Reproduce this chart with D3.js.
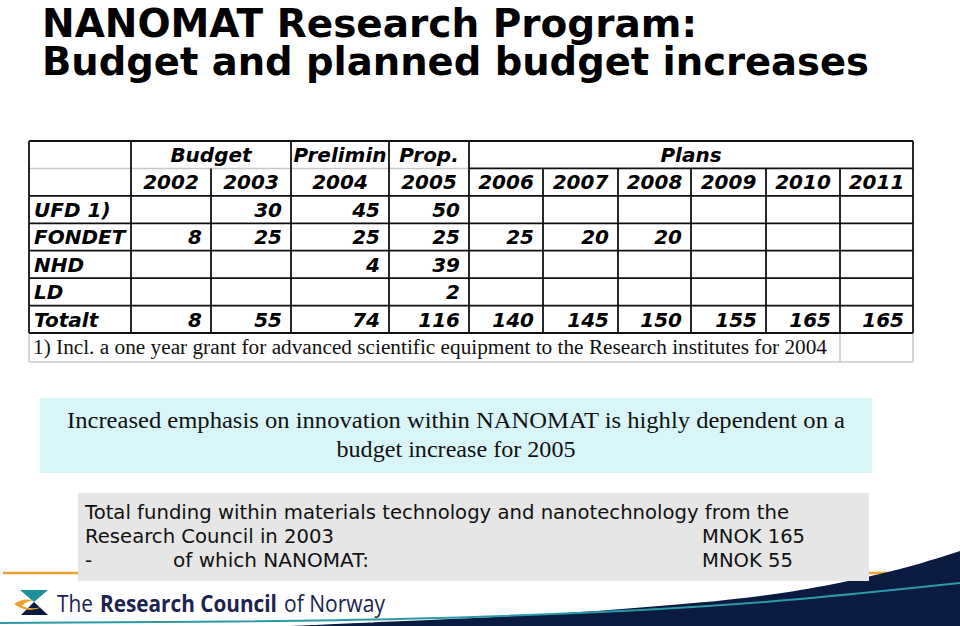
<!DOCTYPE html>
<html><head><meta charset="utf-8">
<script src="https://cdn.jsdelivr.net/npm/d3@7"></script>
<style>html,body{margin:0;padding:0;background:#fff;}svg{display:block;}</style>
</head><body>
<svg id="c" width="960" height="626"></svg>
<script>
// ---------- data ----------
const titleLines = ["NANOMAT Research Program:", "Budget and planned budget increases"];
const groupLabels = ["Budget", "Prelimin", "Prop.", "Plans"];
const groupSpans = [2, 1, 1, 6];
const years = ["2002","2003","2004","2005","2006","2007","2008","2009","2010","2011"];
const rowLabels = ["UFD 1)", "FONDET", "NHD", "LD", "Totalt"];
const ufd    = [null, 30, 45, 50, null, null, null, null, null, null];
const fondet = [8, 25, 25, 25, 25, 20, 20, null, null, null];
const nhd    = [null, null, 4, 39, null, null, null, null, null, null];
const ld     = [null, null, null, 2, null, null, null, null, null, null];
const totalt = [8, 55, 74, 116, 140, 145, 150, 155, 165, 165];
const footnote = "1) Incl. a one year grant for advanced scientific equipment to the Research institutes for 2004";
const emphasisLines = ["Increased emphasis on innovation within NANOMAT is highly dependent on a", "budget increase for 2005"];
const fundingLine1 = "Total funding within materials technology and nanotechnology from the";
const fundingLabels = ["Research Council in 2003", "of which NANOMAT:"];
const fundingValues = ["MNOK 165", "MNOK 55"];
const logoParts = ["The", "Research Council", "of Norway"];

// ---------- layout ----------
const svg = d3.select("#c");
svg.append("rect").attr("width", 960).attr("height", 626).attr("fill", "#fff");

const tableLeft = 29, labelRight = 131, tableRight = 913;
const colWidths = [80, 80, 98, 80, 74, 75, 73, 75, 74, 73];
const lefts = [];
colWidths.reduce((acc, w) => { lefts.push(acc); return acc + w; }, labelRight);
const xCol = d3.scaleOrdinal().domain(years).range(lefts);
const wCol = d3.scaleOrdinal().domain(years).range(colWidths);

const rowKeys = ["group", "year"].concat(rowLabels);
const y = d3.scaleBand().domain(rowKeys).range([141, 333]);
const rowValues = [ufd, fondet, nhd, ld, totalt];

// ---------- title ----------
svg.selectAll("text.title").data(titleLines).join("text")
  .attr("class", "title")
  .attr("x", 42).attr("y", (d, i) => 36.5 + i * 38)
  .attr("font-family", "DejaVu Sans").attr("font-weight", "bold").attr("font-size", 39)
  .attr("textLength", (d, i) => i === 0 ? 655 : 827)
  .attr("lengthAdjust", "spacingAndGlyphs")
  .attr("fill", "#000").text(d => d);

// ---------- table ----------
const tfont = g => g.attr("font-family", "DejaVu Sans").attr("font-weight", "bold")
  .attr("font-style", "italic").attr("font-size", 20).attr("fill", "#000");
const baseline = key => y(key) + y.bandwidth() / 2 + 7.3;

const gLines = svg.append("g");
const dark = "#111", light = "#c8c8c8";
function line(x1, y1, x2, y2, c, w) {
  gLines.append("line").attr("x1", x1).attr("y1", y1).attr("x2", x2).attr("y2", y2)
    .attr("stroke", c).attr("stroke-width", w);
}
const yTop = y("group"), yHdr = y("year");
const yBot = y(rowLabels[rowLabels.length - 1]) + y.bandwidth();
const yFoot = yBot + 29;

// footnote row (light grey)
line(tableLeft, yBot, tableLeft, yFoot, light, 1.5);
line(tableLeft, yFoot, tableRight, yFoot, light, 1.5);
line(840, yBot, 840, yFoot, light, 1.5);
line(tableRight, yBot, tableRight, yFoot, light, 1.5);

// header separator
line(tableLeft, yHdr, xCol("2006"), yHdr, light, 1.5);
line(xCol("2006"), yHdr, tableRight, yHdr, dark, 1.8);
// horizontals
line(tableLeft, yTop, tableRight, yTop, dark, 1.8);
rowLabels.forEach(r => line(tableLeft, y(r), tableRight, y(r), dark, 1.8));
line(tableLeft, yBot, tableRight, yBot, dark, 1.8);
// verticals
line(tableLeft, yTop, tableLeft, yBot, dark, 1.8);
line(labelRight, yTop, labelRight, yBot, dark, 1.8);
line(tableRight, yTop, tableRight, yBot, dark, 1.8);
let acc = 0;
const groupStarts = [];
groupSpans.forEach(s => { groupStarts.push(acc); acc += s; });
years.forEach((yr, i) => {
  if (i === 0) return;
  const fullHeight = groupStarts.includes(i);
  line(xCol(yr), fullHeight ? yTop : yHdr, xCol(yr), yBot, dark, 1.8);
});

// group header text
svg.selectAll("text.grp").data(groupLabels).join("text").attr("class", "grp")
  .call(tfont).attr("text-anchor", "middle")
  .attr("x", (d, i) => {
    const first = years[groupStarts[i]], last = years[groupStarts[i] + groupSpans[i] - 1];
    return (xCol(first) + xCol(last) + wCol(last)) / 2;
  })
  .attr("y", baseline("group")).text(d => d);

// years
svg.selectAll("text.yr").data(years).join("text").attr("class", "yr")
  .call(tfont).attr("text-anchor", "middle")
  .attr("x", d => xCol(d) + wCol(d) / 2).attr("y", baseline("year")).text(d => d);

// row labels
svg.selectAll("text.rl").data(rowLabels).join("text").attr("class", "rl")
  .call(tfont).attr("x", 34).attr("y", d => baseline(d)).text(d => d);

// values
rowLabels.forEach((r, ri) => {
  svg.append("g").selectAll("text").data(rowValues[ri].map((v, i) => ({ v, yr: years[i] })).filter(d => d.v !== null))
    .join("text").call(tfont).attr("text-anchor", "end")
    .attr("x", d => xCol(d.yr) + wCol(d.yr) - 9).attr("y", baseline(r)).text(d => d.v);
});

// footnote
svg.append("text").attr("x", 33).attr("y", yBot + 21)
  .attr("font-family", "Liberation Serif").attr("font-size", 20).attr("fill", "#111")
  .attr("textLength", 794).attr("lengthAdjust", "spacingAndGlyphs").text(footnote);

// ---------- emphasis box ----------
svg.append("rect").attr("x", 40).attr("y", 398).attr("width", 832).attr("height", 75).attr("fill", "#d8f6f8");
svg.selectAll("text.emph").data(emphasisLines).join("text").attr("class", "emph")
  .attr("x", 456).attr("y", (d, i) => 428 + i * 29).attr("text-anchor", "middle")
  .attr("font-family", "Liberation Serif").attr("font-size", 24).attr("fill", "#111")
  .attr("textLength", (d, i) => i === 0 ? 778 : 239).attr("lengthAdjust", "spacingAndGlyphs")
  .text(d => d);

// ---------- footer swoosh ----------
const navyTop = [[290, 626], [400, 621], [500, 617], [600, 611], [700, 603], [780, 594], [840, 583], [900, 570], [960, 551]];
const area = d3.area().x(d => d[0]).y0(627).y1(d => d[1]).curve(d3.curveBasis);
svg.append("path").attr("d", area(navyTop)).attr("fill", "#0b1a40");
const tealPts = [[0, 623], [200, 622], [400, 620], [640, 611], [800, 600], [960, 583]];
svg.append("path").attr("d", d3.line().curve(d3.curveBasis)(tealPts))
  .attr("fill", "none").attr("stroke", "#2a9aa8").attr("stroke-width", 2);
// orange rule
line(3, 573, 960, 573, "#f0a030", 2.5);

// ---------- funding box ----------
svg.append("rect").attr("x", 78).attr("y", 493).attr("width", 791).attr("height", 88).attr("fill", "#e6e6e6");
const ffont = g => g.attr("font-family", "DejaVu Sans").attr("font-size", 20).attr("fill", "#111")
  .attr("lengthAdjust", "spacingAndGlyphs");
svg.append("text").call(ffont).attr("x", 85).attr("y", 519)
  .attr("textLength", 704).text(fundingLine1);
svg.append("text").call(ffont).attr("x", 85).attr("y", 543).attr("textLength", 249).text(fundingLabels[0]);
svg.append("text").call(ffont).attr("x", 85).attr("y", 567).text("-");
svg.append("text").call(ffont).attr("x", 173).attr("y", 567).attr("textLength", 196).text(fundingLabels[1]);
svg.selectAll("text.mnok").data(fundingValues).join("text").attr("class", "mnok")
  .call(ffont).attr("x", 702).attr("y", (d, i) => 543 + i * 24)
  .attr("textLength", (d, i) => i === 0 ? 103 : 91).text(d => d);

// ---------- logo ----------
const logo = svg.append("g");
logo.append("path").attr("d", "M20,590 L48,590 L34,602 Z").attr("fill", "#1f8f9c");
logo.append("path").attr("d", "M34,602 L21,615 L48,615 Z").attr("fill", "#0b1a40");
logo.append("path").attr("d", "M14,604 Q22,598 34,600 Q24,602 22,606 Q30,610 42,607 Q28,614 14,604 Z").attr("fill", "#f0a030");
const logoX = [57, 100, 284], logoW = [36, 177, 101];
logoParts.forEach((p, i) => {
  const g = logo.append("g");
  const t = g.append("text").attr("x", 0).attr("y", 0)
    .attr("font-family", "Open Sans").attr("font-size", 23).attr("fill", "#1c2350")
    .attr("font-weight", i === 1 ? "bold" : "normal").text(p);
  const len = t.node().getComputedTextLength() || logoW[i];
  g.attr("transform", `translate(${logoX[i]},612) scale(${logoW[i] / len},1)`);
});
</script>
</body></html>
